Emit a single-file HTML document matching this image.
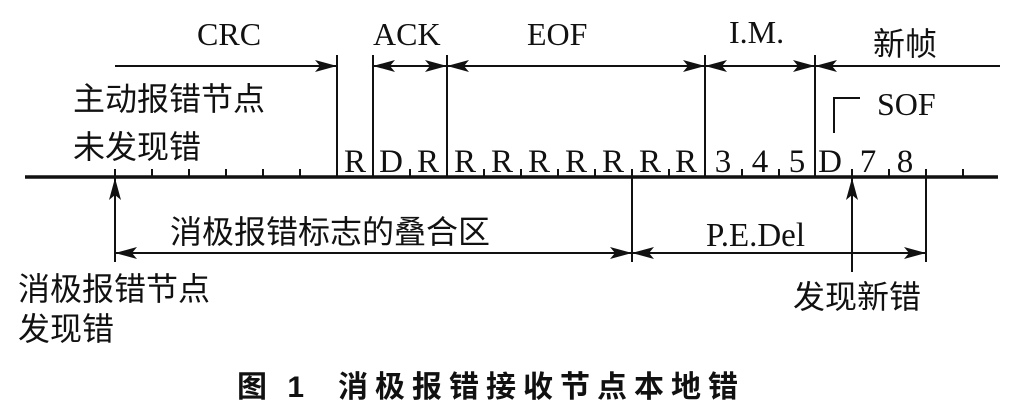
<!DOCTYPE html>
<html><head><meta charset="utf-8"><style>
html,body{margin:0;padding:0;background:#fff;}
svg{display:block;}
.s{font-family:"Liberation Serif",serif;fill:#111;}
.c{font-family:"Liberation Sans","Noto Sans CJK SC",sans-serif;fill:#111;}
</style></head><body>
<svg width="1021" height="412" viewBox="0 0 1021 412" xmlns="http://www.w3.org/2000/svg">
<defs>
<marker id="a" viewBox="0 0 22 12" refX="22" refY="6" markerWidth="22" markerHeight="12" markerUnits="userSpaceOnUse" orient="auto-start-reverse"><path d="M0,0 L22,6 L0,12 L5,6 Z" fill="#111"/></marker>
</defs>
<g stroke="#111" fill="none">
<line x1="25" y1="177" x2="998" y2="177" stroke-width="3.5"/>
<g stroke-width="2">
<path d="M152 177v-8M189 177v-8M226 177v-8M263 177v-8M300 177v-8M410 177v-8M484 177v-8M521 177v-8M558 177v-8M595 177v-8M669 177v-8M742 177v-8M779 177v-8M889 177v-8M963 177v-8"/>
<path d="M337 177V55M373 177V55M447 177V55M705 177V55M815 177V55"/>
<path d="M115 177v-8M632 177v-8M852 177v-8M926 177v-8"/>
<line x1="115" y1="66" x2="337" y2="66" marker-end="url(#a)"/>
<line x1="373" y1="66" x2="447" y2="66" marker-start="url(#a)" marker-end="url(#a)"/>
<line x1="447" y1="66" x2="705" y2="66" marker-start="url(#a)" marker-end="url(#a)"/>
<line x1="705" y1="66" x2="815" y2="66" marker-start="url(#a)" marker-end="url(#a)"/>
<line x1="815" y1="66" x2="1000" y2="66" marker-start="url(#a)"/>
<path d="M834 133V98H860"/>
<line x1="115" y1="262" x2="115" y2="178" marker-end="url(#a)"/>
<line x1="852" y1="272" x2="852" y2="178" marker-end="url(#a)"/>
<path d="M632 177V262M926 177V262"/>
<line x1="115" y1="253" x2="632" y2="253" marker-start="url(#a)" marker-end="url(#a)"/>
<line x1="632" y1="253" x2="926" y2="253" marker-start="url(#a)" marker-end="url(#a)"/>
</g>
</g>
<g class="s" font-size="32">
<text x="197" y="45">CRC</text>
<text x="373" y="45">ACK</text>
<text x="527" y="45">EOF</text>
<text x="729" y="43">I.M.</text>
<text x="877" y="115">SOF</text>
</g>
<g class="s" font-size="33" text-anchor="middle">
<text x="355" y="172">R</text><text x="391" y="172">D</text><text x="428" y="172">R</text>
<text x="465" y="172">R</text><text x="502" y="172">R</text><text x="539" y="172">R</text>
<text x="576" y="172">R</text><text x="613" y="172">R</text><text x="650" y="172">R</text>
<text x="686" y="172">R</text><text x="723" y="172">3</text><text x="760" y="172">4</text>
<text x="797" y="172">5</text><text x="830" y="172">D</text><text x="868" y="172">7</text>
<text x="905" y="172">8</text>
</g>
<text class="s" x="706" y="246" font-size="34" textLength="99" lengthAdjust="spacingAndGlyphs">P.E.Del</text>
<g class="c" font-size="32">
<text x="873" y="55">新帧</text>
<text x="73" y="110">主动报错节点</text>
<text x="73" y="158">未发现错</text>
<text x="170" y="243">消极报错标志的叠合区</text>
<text x="18" y="300">消极报错节点</text>
<text x="18" y="340">发现错</text>
<text x="793" y="308">发现新错</text>
</g>
<g class="c" font-size="30" font-weight="bold">
<text x="237" y="397" letter-spacing="6">图 1</text>
<text x="338" y="397" letter-spacing="7">消极报错接收节点本地错</text>
</g>
</svg>
</body></html>
